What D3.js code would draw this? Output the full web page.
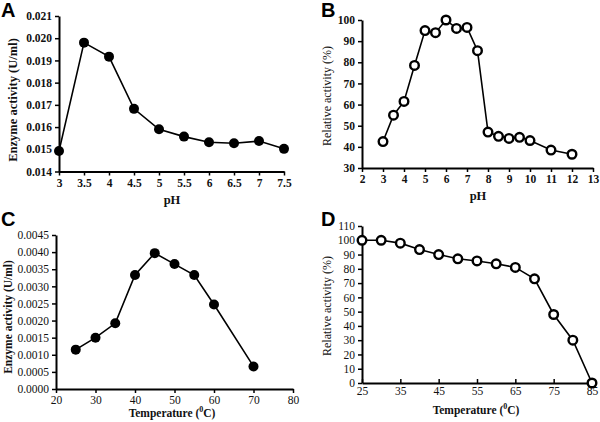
<!DOCTYPE html>
<html><head><meta charset="utf-8">
<script src="https://cdn.jsdelivr.net/npm/d3@7"></script>
<style>body{margin:0;background:#fff}svg{display:block}</style>
</head><body>
<script>
// Panel A: pH vs enzyme activity
const phA = [3, 3.5, 4, 4.5, 5, 5.5, 6, 6.5, 7, 7.5];
const actA = [0.01492, 0.01980, 0.01917, 0.01682, 0.01590, 0.01557, 0.01532, 0.01527, 0.01537, 0.01502];
const ticksAx = [3, 3.5, 4, 4.5, 5, 5.5, 6, 6.5, 7, 7.5];
const ticksAy = [0.014, 0.015, 0.016, 0.017, 0.018, 0.019, 0.020, 0.021];
// Panel B: pH vs relative activity
const phB = [3, 3.5, 4, 4.5, 5, 5.5, 6, 6.5, 7, 7.5, 8, 8.5, 9, 9.5, 10, 11, 12];
const relB = [42.5, 55, 61.5, 78.5, 95, 94, 100, 96, 96.5, 85.5, 47, 45, 44, 44.5, 43, 38.5, 36.5];
const ticksBx = [2, 3, 4, 5, 6, 7, 8, 9, 10, 11, 12, 13];
const ticksBy = [30, 40, 50, 60, 70, 80, 90, 100];
// Panel C: temperature vs enzyme activity
const tempC = [25, 30, 35, 40, 45, 50, 55, 60, 70];
const actC = [0.00115, 0.00150, 0.00192, 0.00333, 0.00397, 0.00365, 0.00333, 0.00247, 0.00066];
const ticksCx = [20, 30, 40, 50, 60, 70, 80];
const ticksCy = [0, 0.0005, 0.001, 0.0015, 0.002, 0.0025, 0.003, 0.0035, 0.004, 0.0045];
// Panel D: temperature vs relative activity
const tempD = [25, 30, 35, 40, 45, 50, 55, 60, 65, 70, 75, 80, 85];
const relD = [100, 100, 98, 93.5, 90, 87, 85.5, 83.5, 81, 73, 48, 30, 0];
const ticksDx = [25, 35, 45, 55, 65, 75, 85];
const ticksDy = [0, 10, 20, 30, 40, 50, 60, 70, 80, 90, 100, 110];

const svg = d3.select("body").append("svg").attr("width", 600).attr("height", 422);
const serif = "'Liberation Serif', 'Times New Roman', serif";

function panel(o) {
  const x = d3.scaleLinear().domain(o.xd).range([o.x0, o.x1]);
  const y = d3.scaleLinear().domain(o.yd).range([o.y0, o.y1]);
  const g = svg.append("g");
  const xa = g.append("g").attr("transform", `translate(0,${o.y0})`)
    .call(d3.axisBottom(x).tickValues(o.tx).tickFormat(o.fx).tickSizeInner(o.xin ? -4 : 4).tickSizeOuter(0).tickPadding(o.xin ? 4 : 3));
  const ya = g.append("g").attr("transform", `translate(${o.x0},0)`)
    .call(d3.axisLeft(y).tickValues(o.ty).tickFormat(o.fy).tickSizeInner(4).tickSizeOuter(0).tickPadding(3));
  [xa, ya].forEach(a => {
    a.select(".domain").attr("stroke", "#000").attr("stroke-width", 2);
    a.selectAll(".tick line").attr("stroke", "#000").attr("stroke-width", 1.5);
    a.selectAll("text").attr("font-family", serif).attr("font-size", 11.5)
      .attr("font-weight", o.bold ? "bold" : "normal").attr("fill", "#111");
  });
  const line = d3.line().x(d => x(d[0])).y(d => y(d[1]));
  const pts = o.xs.map((v, i) => [v, o.ys[i]]);
  g.append("path").datum(pts).attr("d", line).attr("fill", "none").attr("stroke", "#000").attr("stroke-width", 1.6);
  g.selectAll("circle").data(pts).enter().append("circle")
    .attr("cx", d => x(d[0])).attr("cy", d => y(d[1])).attr("r", o.open ? 4.3 : 5)
    .attr("fill", o.open ? "#fff" : "#000").attr("stroke", "#000").attr("stroke-width", o.open ? 2.4 : 0);
  // titles
  const xt = g.append("text").attr("x", o.xtx).attr("y", o.xty).attr("text-anchor", "middle")
    .attr("font-family", serif).attr("font-weight", "bold").attr("font-size", o.xfs).attr("fill", "#111");
  if (o.deg) {
    xt.append("tspan").text("Temperature (");
    xt.append("tspan").text("0").attr("font-size", 8).attr("dy", -5);
    xt.append("tspan").text("C)").attr("dy", 5);
  } else xt.text(o.xt);
  g.append("text").attr("transform", `translate(${o.ytx},${o.yty}) rotate(-90)`).attr("text-anchor", "middle")
    .attr("font-family", serif).attr("font-weight", o.ytb ? "bold" : "normal").attr("font-size", o.yfs)
    .attr("fill", "#111").text(o.yt);
  svg.append("text").attr("x", o.lx).attr("y", o.ly).attr("font-family", "'Liberation Sans', Arial, sans-serif")
    .attr("font-weight", "bold").attr("font-size", 20).text(o.letter);
}

panel({letter: "A", lx: 1, ly: 17, xs: phA, ys: actA, xd: [3, 7.5], yd: [0.014, 0.021], x0: 59, x1: 284, y0: 171.5, y1: 16,
  tx: ticksAx, ty: ticksAy, fx: d3.format(""), fy: d3.format(".3f"), bold: true, open: false,
  xt: "pH", xtx: 172, xty: 204, xfs: 12.5, yt: "Enzyme activity (U/ml)", ytx: 17, yty: 100, ytb: true, yfs: 12.5});
panel({letter: "B", lx: 321, ly: 17, xs: phB, ys: relB, xd: [2, 13], yd: [30, 100], x0: 362, x1: 593, y0: 168, y1: 20,
  tx: ticksBx, ty: ticksBy, fx: d3.format(""), fy: d3.format(""), bold: true, open: true,
  xt: "pH", xtx: 478, xty: 200, xfs: 12.5, yt: "Relative activity  (%)", ytx: 331, yty: 96, ytb: false, yfs: 12});
panel({letter: "C", lx: 1, ly: 226, xs: tempC, ys: actC, xd: [20, 80], yd: [0, 0.0045], x0: 56, x1: 293, y0: 389, y1: 235,
  tx: ticksCx, ty: ticksCy, fx: d3.format(""), fy: d3.format(".4f"), bold: false, open: false, deg: true,
  xtx: 172, xty: 417, xfs: 11.5, yt: "Enzyme activity  (U/ml)", ytx: 12, yty: 317, ytb: true, yfs: 11.5});
panel({letter: "D", lx: 321, ly: 226, xs: tempD, ys: relD, xd: [25, 85], yd: [0, 110], x0: 362, x1: 592, y0: 383, y1: 226,
  tx: ticksDx, ty: ticksDy, fx: d3.format(""), fy: d3.format(""), bold: false, open: true, deg: true, xin: true,
  xtx: 476, xty: 414, xfs: 11.5, yt: "Relative activity  (%)", ytx: 331, yty: 306, ytb: false, yfs: 12});
</script>
</body></html>
